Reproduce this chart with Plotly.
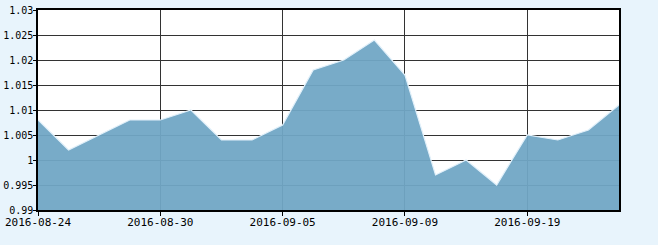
import plotly.graph_objects as go

dates = ["2016-08-24", "2016-08-25", "2016-08-26", "2016-08-29", "2016-08-30",
         "2016-08-31", "2016-09-01", "2016-09-02", "2016-09-05", "2016-09-06",
         "2016-09-07", "2016-09-08", "2016-09-09", "2016-09-12", "2016-09-13",
         "2016-09-14", "2016-09-19", "2016-09-20", "2016-09-21", "2016-09-22"]
values = [1.008, 1.002, 1.005, 1.008, 1.008, 1.010, 1.004, 1.004, 1.007, 1.018,
          1.020, 1.024, 1.017, 0.997, 1.000, 0.995, 1.005, 1.004, 1.006, 1.011]
xtick_labels = ["2016-08-24", "2016-08-30", "2016-09-05", "2016-09-09", "2016-09-19"]
ytick_vals = [0.99, 0.995, 1.0, 1.005, 1.01, 1.015, 1.02, 1.025, 1.03]
ytick_text = ["0.99", "0.995", "1", "1.005", "1.01", "1.015", "1.02", "1.025", "1.03"]

fig = go.Figure()
fig.add_trace(go.Scatter(
    x=dates, y=values, mode="lines",
    line=dict(color="rgba(225,240,250,1)", width=1.2),
    fill="tozeroy", fillcolor="rgba(113,166,197,0.95)",
    hoverinfo="skip",
))

xfont = dict(family="DejaVu Sans Mono, monospace", size=11, color="#000000")
yfont = dict(family="DejaVu Sans Mono, monospace", size=10, color="#000000")
fig.update_layout(
    width=658, height=245,
    margin=dict(l=38, r=39, t=10, b=35),
    paper_bgcolor="#E8F4FC", plot_bgcolor="#FFFFFF",
    showlegend=False, font=xfont,
)
fig.update_xaxes(
    type="category", categoryorder="array", categoryarray=dates,
    range=[0, len(dates) - 1], automargin=False,
    tickmode="array", tickvals=xtick_labels, ticktext=xtick_labels,
    showgrid=True, gridcolor="#333333", gridwidth=1,
    showline=True, linecolor="#000000", linewidth=1.5, mirror=True,
    ticks="outside", ticklen=4, tickcolor="#000000", tickwidth=1,
    tickfont=xfont, zeroline=False, ticklabelstandoff=-3,
)
fig.update_yaxes(
    range=[0.99, 1.03], automargin=False,
    tickmode="array", tickvals=ytick_vals, ticktext=ytick_text,
    showgrid=True, gridcolor="#333333", gridwidth=1,
    showline=True, linecolor="#000000", linewidth=1.5, mirror=True,
    ticks="outside", ticklen=3, tickcolor="#000000", tickwidth=1,
    tickfont=yfont, zeroline=False, ticklabelstandoff=-2,
)
fig.write_html("out.html")
